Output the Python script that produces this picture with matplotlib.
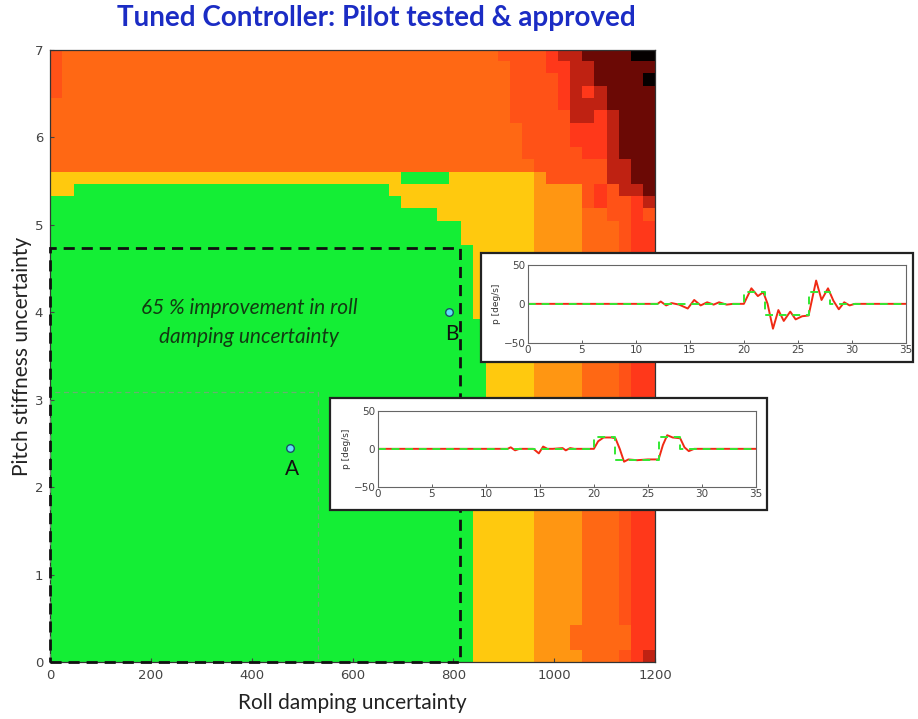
#!/usr/bin/env python3
"""Robustness map of the tuned controller with two pilot-in-the-loop time histories."""

import matplotlib
matplotlib.use("Agg")
import matplotlib.pyplot as plt
import numpy as np
from matplotlib.colors import ListedColormap
from matplotlib.patches import Rectangle

# heatmap levels (code -> colour), from green (fine) to black (worst)
LEVEL_CODES = ["G", "Y", "o", "O", "R", "S", "D", "K", "B"]
LEVEL_COLORS = ["#14ee35", "#ffc90e", "#ff9612", "#ff6814", "#ff5217",
                "#ff381a", "#bf2212", "#6b0905", "#050000"]

# grid rows read from the top (pitch = 7) down, as run-lengths over 50 roll columns
HEAT_ROWS = [
    (1, "R1 O36 R4 S1 D2 K4 B2"),
    (1, "R1 O37 R3 S2 D2 K5"),
    (1, "R1 O37 R4 S1 D2 K4 B1"),
    (1, "R1 O37 R4 S1 D1 S1 D1 K4"),
    (1, "O38 R4 S1 D3 K4"),
    (1, "O38 R5 D2 S1 D1 K3"),
    (2, "O39 R4 S3 D1 K3"),
    (1, "O39 R5 S2 D1 K3"),
    (1, "O40 R6 D2 K2"),
    (1, "Y29 G4 Y7 o1 R5 D2 K2"),
    (1, "Y2 G26 Y12 o4 R1 S1 R1 D2 K1"),
    (1, "G29 Y11 o4 R1 S1 R2 S1 D1"),
    (1, "G32 Y8 o4 O2 R2 S1 R1"),
    (2, "G34 Y6 o4 O3 R1 S2"),
    (6, "G35 Y5 o4 O3 R1 S2"),
    (11, "G36 Y4 o4 O3 R1 S2"),
    (14, "G35 Y5 o4 O3 R1 S2"),
    (2, "G35 Y5 o3 O5 S2"),
    (1, "G35 Y5 o4 O3 R1 S1 D1"),
]
ROLL_MAX = 1200
PITCH_MAX = 7

# tested region (dashed black), earlier region (faint grey) and the two test points
BOX_ROLL = 813
BOX_PITCH = 4.73
OLD_BOX_ROLL = 532
OLD_BOX_PITCH = 3.09
POINT_NAMES = ["A", "B"]
POINT_ROLL = [476, 792]
POINT_PITCH = [2.45, 4.0]

# time histories: commanded (dashed green) and pilot response (red)
T_CMD = [0, 20, 20, 22, 22, 26, 26, 28, 28, 35]
P_CMD = [0, 0, 15, 15, -15, -15, 15, 15, 0, 0]

T_A = [0, 12.0, 12.3, 12.7, 13.1, 14.4, 14.9, 15.3, 15.7, 16.2, 17.1, 17.4, 17.8, 18.2,
       20.0, 20.4, 20.9, 21.6, 22.0, 22.4, 22.8, 23.2, 24.0, 25.0, 26.0, 26.4, 26.8, 27.3,
       28.0, 28.4, 28.8, 29.3, 35]
P_A = [0, 0, 2, -2, 0, 0, -6, 3, 0, 0, 1, -2, 1, 0,
       0, 10, 15, 15, 14, 0, -17, -14, -15, -14, -14, 5, 18, 15,
       14, 2, -3, 0, 0]

T_B = [0, 12.0, 12.3, 12.8, 13.3, 14.0, 14.8, 15.4, 16.0, 16.6, 17.2, 17.7, 18.4, 19.0,
       20.0, 20.7, 21.3, 21.8, 22.2, 22.7, 23.2, 23.7, 24.3, 24.8, 25.4, 26.0, 26.7, 27.2,
       27.8, 28.3, 28.8, 29.3, 29.8, 30.3, 35]
P_B = [0, 0, 3, -2, 1, -1, -6, 5, -2, 2, -1, 2, -1, 0,
       0, 20, 10, 15, 0, -32, -8, -22, -10, -20, -16, -15, 30, 5,
       20, 4, -7, 2, -2, 0, 0]

T_TICKS = [0, 5, 10, 15, 20, 25, 30, 35]
P_TICKS = [-50, 0, 50]

# figure geometry in figure fractions (measured from the 918x719 reference)
MAIN_POS = [0.0545, 0.0793, 0.659, 0.8512]
INSET_B_POS = [0.5752, 0.5234, 0.4114, 0.108]
INSET_B_BOX = [0.524, 0.4965, 0.4706, 0.1516]
INSET_A_POS = [0.4118, 0.3231, 0.4114, 0.1053]
INSET_A_BOX = [0.3595, 0.2907, 0.476, 0.1558]

TITLE_COLOR = "#1b2cc4"
TICK_COLOR = "#444444"


def build_grid(rows):
    grid = []
    for count, runs in rows:
        line = []
        for run in runs.split():
            line += [LEVEL_CODES.index(run[0])] * int(run[1:])
        if len(line) != 50:
            raise SystemExit(f"bad row: {runs}")
        grid += [line] * count
    return np.array(grid)


def style_inset(ax):
    ax.set_xlim(0, 35)
    ax.set_ylim(-50, 50)
    ax.set_xticks(T_TICKS)
    ax.set_yticks(P_TICKS)
    ax.tick_params(direction="in", length=2.5, width=0.6, labelsize=7.5,
                   colors=TICK_COLOR, pad=2)
    for sp in ax.spines.values():
        sp.set_color("#666666")
        sp.set_linewidth(0.8)
    ax.set_ylabel("p [deg/s]", fontsize=6.5, color="#333333", labelpad=2)


def draw_inset(fig, pos, box, t, p):
    fig.add_artist(Rectangle((box[0], box[1]), box[2], box[3], transform=fig.transFigure,
                             facecolor="white", edgecolor="#222222", linewidth=1.6, zorder=2))
    ax = fig.add_axes(pos)
    ax.set_zorder(3)
    ax.plot(t, p, color="#f02a14", lw=1.4)
    ax.plot(T_CMD, P_CMD, color="#33e833", lw=1.4, ls=(0, (4, 3)))
    style_inset(ax)
    return ax


def main():
    grid = build_grid(HEAT_ROWS)

    fig = plt.figure(figsize=(9.18, 7.19), dpi=100)
    ax = fig.add_axes(MAIN_POS)
    ax.imshow(grid, cmap=ListedColormap(LEVEL_COLORS), vmin=-0.5, vmax=len(LEVEL_CODES) - 0.5,
              extent=[0, ROLL_MAX, 0, PITCH_MAX], aspect="auto", interpolation="nearest",
              origin="upper")
    ax.set_xlim(0, ROLL_MAX)
    ax.set_ylim(0, PITCH_MAX)
    ax.set_xticks(range(0, ROLL_MAX + 1, 200))
    ax.set_yticks(range(0, PITCH_MAX + 1))
    ax.tick_params(direction="in", length=3, labelsize=9.5, colors=TICK_COLOR, pad=5)
    for sp in ax.spines.values():
        sp.set_color("#333333")
        sp.set_linewidth(0.9)

    ax.add_patch(Rectangle((0, 0), OLD_BOX_ROLL, OLD_BOX_PITCH, fill=False, edgecolor="#7fa07f",
                           linewidth=0.9, linestyle=(0, (4, 3)), alpha=0.8, zorder=3))
    ax.add_patch(Rectangle((0, 0), BOX_ROLL, BOX_PITCH, fill=False, edgecolor="#111111",
                           linewidth=2, linestyle=(0, (4, 2.5)), clip_on=False, zorder=4))
    ax.scatter(POINT_ROLL, POINT_PITCH, s=30, facecolor="#5fe0f6", edgecolor="#1b4f6b",
               linewidth=1, zorder=5)
    for name, x, y in zip(POINT_NAMES, POINT_ROLL, POINT_PITCH):
        ax.text(x + 4, y - 0.13, name, ha="center", va="top", fontsize=15,
                family="Lato", color="#111111", zorder=5)
    ax.text(395, 3.88, "65 % improvement in roll\ndamping uncertainty", ha="center",
            va="center", fontsize=15, family="Lato", style="italic", color="#123a12",
            linespacing=1.55, zorder=5)

    ax.set_xlabel("Roll damping uncertainty", fontsize=15, family="Lato", color="#222222",
                  labelpad=8)
    ax.set_ylabel("Pitch stiffness uncertainty", fontsize=15, family="Lato", color="#222222",
                  labelpad=2)

    fig.text(0.41, 0.975, "Tuned Controller: Pilot tested & approved", ha="center", va="center",
             fontsize=20, family="Lato", weight="bold", color=TITLE_COLOR)

    draw_inset(fig, INSET_B_POS, INSET_B_BOX, T_B, P_B)
    draw_inset(fig, INSET_A_POS, INSET_A_BOX, T_A, P_A)

    fig.savefig("out.png", dpi=100)
    plt.close(fig)


if __name__ == "__main__":
    main()
